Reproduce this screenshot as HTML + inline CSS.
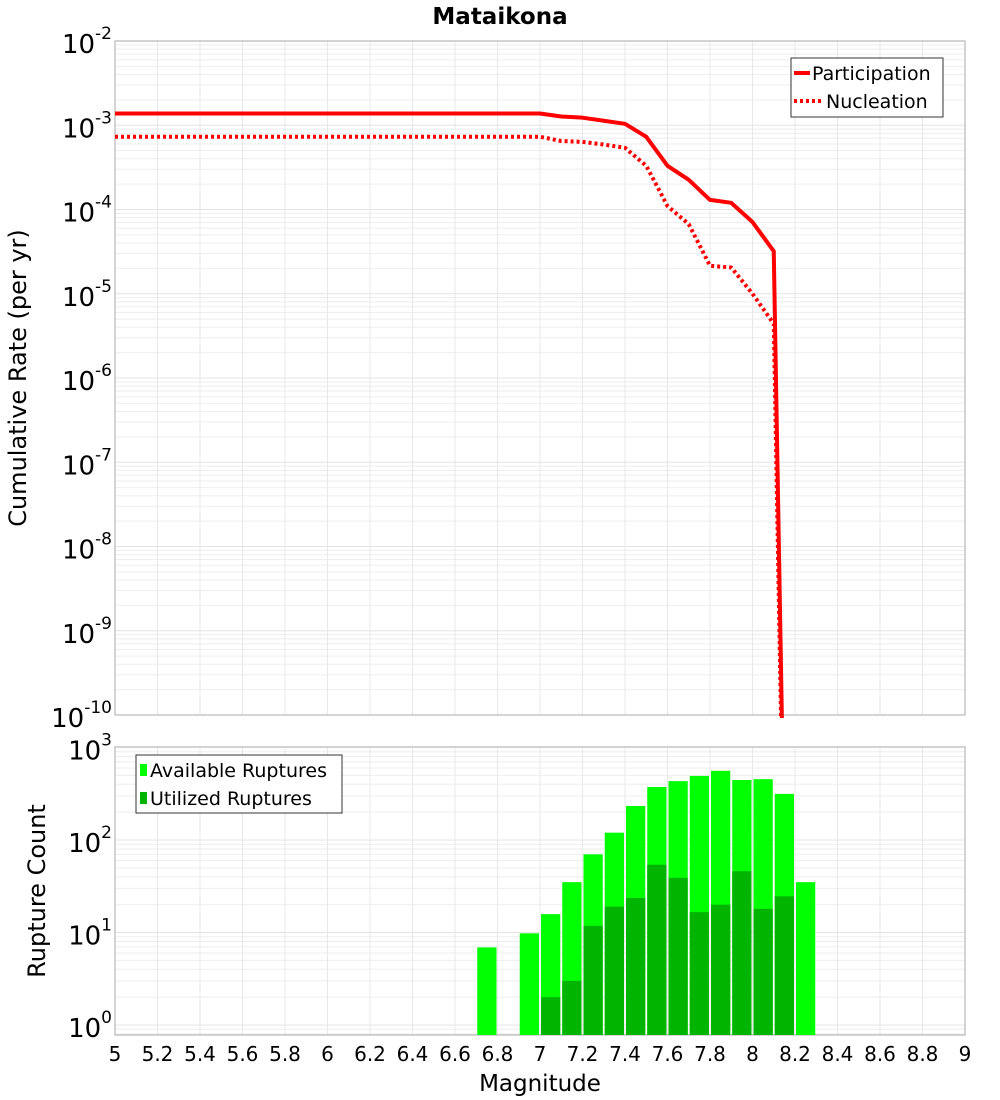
<!DOCTYPE html>
<html><head><meta charset="utf-8"><style>
html,body{margin:0;padding:0;background:#fff;overflow:hidden;width:1000px;height:1100px;font-family:"Liberation Sans","DejaVu Sans",sans-serif;}
svg{display:block;}
svg text{font-family:"DejaVu Sans","Liberation Sans",sans-serif;}
</style></head><body>
<svg id="c" width="1000" height="1100" xmlns="http://www.w3.org/2000/svg"></svg>
<script>
const mags=[5.0,7.0,7.1,7.2,7.3,7.4,7.5,7.6,7.7,7.8,7.9,8.0,8.1,8.2];
const partRate=[1.38e-3,1.38e-3,1.27e-3,1.23e-3,1.13e-3,1.04e-3,7.3e-4,3.3e-4,2.25e-4,1.3e-4,1.2e-4,7.1e-5,3.2e-5,1e-19];
const nuclRate=[7.3e-4,7.3e-4,6.5e-4,6.35e-4,5.9e-4,5.4e-4,3.3e-4,1.1e-4,6.7e-5,2.15e-5,2.05e-5,1.0e-5,4.4e-6,1e-19];
const binMags=[6.75,6.95,7.05,7.15,7.25,7.35,7.45,7.55,7.65,7.75,7.85,7.95,8.05,8.15,8.25];
const available=[6.9,9.8,15.8,35,70,120,233,374,433,493,560,445,455,315,35];
const utilized=[0,0,2,3,11.8,19,23.6,54,39,16.6,20,46,18,24.6,0];
const xTicks=[5,5.2,5.4,5.6,5.8,6,6.2,6.4,6.6,6.8,7,7.2,7.4,7.6,7.8,8,8.2,8.4,8.6,8.8,9];

const NS="http://www.w3.org/2000/svg",svg=document.getElementById('c');
function mk(t,a,p){const e=document.createElementNS(NS,t);for(const k in a)e.setAttribute(k,a[k]);(p||svg).appendChild(e);return e;}
const L=115,R=965,T1=41,B1=715,T2=747,B2=1035;
const x=m=>L+(m-5)*(R-L)/4;
const y1=v=>T1+(-2-Math.log10(v))*(B1-T1)/8;
const y2=v=>1025-Math.log10(v)*92.5;

function grid(top,bot,yf,dmin,dmax){
  const g=mk('g',{});
  
  
  for(let d=dmin;d<dmax;d++)for(let k=1;k<10;k++){const yy=yf(k*Math.pow(10,d));if(yy>=top&&yy<=bot)mk('line',{x1:L,x2:R,y1:yy,y2:yy,stroke:k==1?'#e4e4e4':'#eeeeee','stroke-width':1},g);}
  for(let m=5;m<=9.001;m+=0.2)mk('line',{x1:x(m),x2:x(m),y1:top,y2:bot,stroke:'#e8e8e8'},g);
}
grid(T1,B1,y1,-10,-2);grid(T2,B2,y2,-1,3);

let f=mk('rect',{x:L,y:T1,width:R-L,height:B1-T1,fill:'none',stroke:'#aaa'});

f=mk('rect',{x:L,y:T2,width:R-L,height:B2-T2,fill:'none',stroke:'#aaa'});


const defs=mk('defs',{});const cp=mk('clipPath',{id:'cp1'},defs);mk('rect',{x:L,y:T1,width:R-L,height:B1-T1+3},cp);

function line(arr,dash,name){
  const pts=mags.map((m,i)=>x(m)+','+Math.min(y1(arr[i]),2000)).join(' ');
  const p=mk('polyline',{points:pts,fill:'none',stroke:'#ff0000','stroke-width':4,'clip-path':'url(#cp1)','stroke-dasharray':dash?'3,3':'none','stroke-linejoin':'round'});
  
}
line(partRate,false,'participation-line');line(nuclRate,true,'nucleation-line');

const bw=(x(0.1)-x(0))-2;
binMags.forEach((m,i)=>{
  if(available[i]>0){const r=mk('rect',{x:x(m)-bw/2,y:y2(available[i]),width:bw,height:B2-y2(available[i]),fill:'#00ff00'});
  }
  if(utilized[i]>0){const r=mk('rect',{x:x(m)-bw/2,y:y2(utilized[i]),width:bw,height:B2-y2(utilized[i]),fill:'#00b400'});
  }
});

function ylab(yy,exp,name){const t=mk('text',{x:112,y:yy+12,'text-anchor':'end','font-size':26,fill:'#000'});
 
 t.innerHTML='10<tspan dy="-14" font-size="17">'+exp+'</tspan>';}
for(let d=-2;d>=-10;d--)ylab(y1(Math.pow(10,d)),d,'y-tick-label');
for(let d=3;d>=0;d--)ylab(y2(Math.pow(10,d)),d,'count-tick-label');

xTicks.forEach(v=>{const t=mk('text',{x:x(v),y:1061,'text-anchor':'middle','font-size':20,fill:'#000'});
 t.textContent=String(v);});

function txt(s,a,name){const t=mk('text',a);t.textContent=s;return t;}
txt('Mataikona',{x:500,y:24,'text-anchor':'middle','font-size':23,'font-weight':'bold'},'chart-title');
txt('Magnitude',{x:540,y:1091,'text-anchor':'middle','font-size':23},'x-axis-title');
txt('Cumulative Rate (per yr)',{x:0,y:0,'text-anchor':'middle','font-size':24,transform:'translate(26,378) rotate(-90)'},'y-axis-title');
txt('Rupture Count',{x:0,y:0,'text-anchor':'middle','font-size':24,transform:'translate(45,891) rotate(-90)'},'count-axis-title');

let g=mk('g',{});
mk('rect',{x:791,y:58,width:152,height:59,fill:'#fff',stroke:'#333'},g);
mk('line',{x1:794,x2:810,y1:73,y2:73,stroke:'#f00','stroke-width':4},g);
mk('line',{x1:794,x2:822,y1:101,y2:101,stroke:'#f00','stroke-width':4,'stroke-dasharray':'3,3'},g);
let t=mk('text',{x:812,y:80,'font-size':19},g);t.textContent='Participation';
t=mk('text',{x:826,y:108,'font-size':19},g);t.textContent='Nucleation';

g=mk('g',{});
mk('rect',{x:136,y:755,width:206,height:58,fill:'#fff',stroke:'#333'},g);
mk('rect',{x:140,y:764,width:7,height:12,fill:'#00ff00'},g);
mk('rect',{x:140,y:792,width:7,height:12,fill:'#00b400'},g);
t=mk('text',{x:150,y:777,'font-size':19},g);t.textContent='Available Ruptures';
t=mk('text',{x:150,y:805,'font-size':19},g);t.textContent='Utilized Ruptures';
</script>
</body></html>
